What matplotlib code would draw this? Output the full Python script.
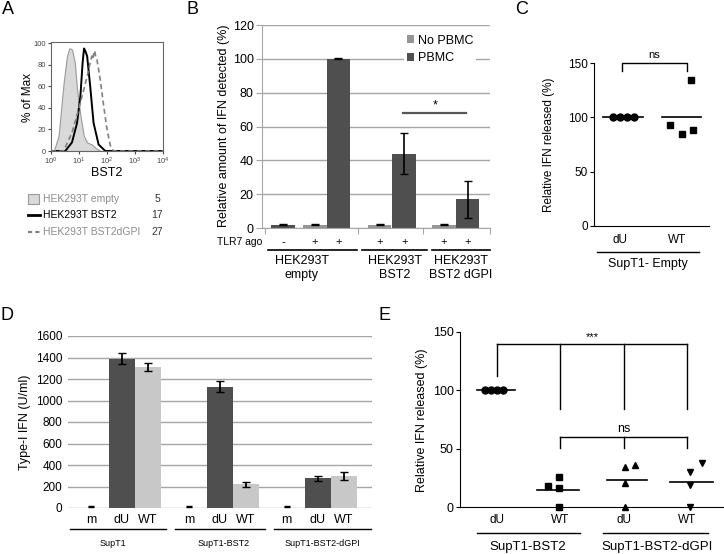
import numpy as np
import matplotlib
matplotlib.use('Agg')
import matplotlib.pyplot as plt
import matplotlib.transforms as mtransforms
from matplotlib.lines import Line2D
from matplotlib.patches import Patch, Rectangle

plt.rcParams['font.family'] = ['Liberation Sans', 'DejaVu Sans']

# ---- data ----
# A: flow histograms (log10 BST2, % of max)
empty_log = [0.0, 0.1, 0.27, 0.45, 0.57, 0.65, 0.69, 0.75, 0.85, 0.93, 1.05, 1.17, 1.29, 1.46, 1.58, 1.76, 4.0]
empty_pct = [0, 0, 14, 63, 88, 95, 95, 94, 82, 57, 33, 14, 8, 6, 3, 0, 0]
bst2_log = [0.0, 0.51, 0.75, 0.93, 1.05, 1.13, 1.18, 1.22, 1.29, 1.4, 1.52, 1.7, 1.94, 4.0]
bst2_pct = [0, 0, 8, 26, 51, 82, 95, 93, 88, 60, 26, 6, 0, 0]
dgpi_log = [0.0, 0.45, 0.75, 0.99, 1.17, 1.29, 1.4, 1.46, 1.5, 1.53, 1.56, 1.6, 1.64, 1.76, 1.88, 2.0, 2.12, 2.24, 4.0]
dgpi_pct = [0, 0, 17, 39, 57, 69, 82, 88, 85, 91, 93, 87, 85, 66, 42, 20, 5, 0, 0]
legA_names = ['HEK293T empty', 'HEK293T BST2', 'HEK293T BST2dGPI']
legA_mfi = ['5', '17', '27']

# B: relative IFN detected
nopbmc_vals = [2, 2, 2]
nopbmc_err = [0.3, 0.3, 0.3]
pbmc_vals = [2, 100, 44, 17]
pbmc_err = [0.3, 0.2, 12, 11]
tlr7_signs = ['-', '+', '+', '+', '+', '+', '+']
groupsB = ['HEK293T\nempty', 'HEK293T\nBST2', 'HEK293T\nBST2 dGPI']

# C: SupT1-Empty
c_du = [100, 100, 100, 100]
c_wt = [93, 85, 88, 134]

# D: type-I IFN (U/ml)
d_groups = ['SupT1', 'SupT1-BST2', 'SupT1-BST2-dGPI']
d_m = [12, 15, 15]
d_m_err = [6, 6, 6]
d_du = [1390, 1130, 275]
d_du_err = [50, 50, 20]
d_wt = [1310, 220, 300]
d_wt_err = [40, 25, 35]

# E: relative IFN released
e_labels = ['dU', 'WT', 'dU', 'WT']
e_du_bst2 = [100, 100, 100, 100]
e_wt_bst2 = [18, 26, 16, 0]
e_du_dgpi = [34, 36, 21, 0]
e_wt_dgpi = [30, 38, 19, 0]

# ---- layout helpers (pixel coords) ----
W, H = 724, 554
fig = plt.figure(figsize=(W / 100, H / 100), dpi=100)

def add_ax(l, t, r, b):
    return fig.add_axes([l / W, 1 - b / H, (r - l) / W, (b - t) / H])

def ftext(x, y, s, **kw):
    kw.setdefault('ha', 'center')
    kw.setdefault('va', 'center')
    return fig.text(x / W, 1 - y / H, s, **kw)

def fline(x0, x1, y, **kw):
    fig.add_artist(Line2D([x0 / W, x1 / W], [1 - y / H] * 2, transform=fig.transFigure, **kw))

def xtext(ax, x, y, s, **kw):
    tr = mtransforms.blended_transform_factory(ax.transData, fig.transFigure)
    kw.setdefault('ha', 'center')
    kw.setdefault('va', 'center')
    ax.text(x, 1 - y / H, s, transform=tr, clip_on=False, **kw)

LIGHT = '#969696'
DARK = '#4f4f4f'
GRID = '#a6a6a6'

# ---- panel letters ----
for lab, x, y in [('A', 8, 9), ('B', 192, 10), ('C', 522, 10), ('D', 7, 316), ('E', 385, 316)]:
    ftext(x, y, lab, fontsize=13)

# ---- A ----
axA = add_ax(51, 42, 163, 151)
axA.fill_between(10 ** np.array(empty_log), empty_pct, color='#d9d9d9', edgecolor='#9a9a9a', lw=0.8)
axA.plot(10 ** np.array(bst2_log), bst2_pct, color='black', lw=1.4)
axA.plot(10 ** np.array(dgpi_log), dgpi_pct, color='#808080', lw=1.2, ls=(0, (3, 2)))
axA.set_xscale('log')
axA.set_xlim(1, 1e4)
axA.set_ylim(0, 101)
axA.set_yticks(range(0, 101, 20))
axA.set_xticks([1, 10, 100, 1000, 10000])
axA.tick_params(labelsize=5.5, length=2, colors='#444', pad=1.5)
axA.tick_params(which='minor', length=1.2, colors='#666')
for s in axA.spines.values():
    s.set_color('#666')
    s.set_linewidth(0.8)
ftext(28, 97, '% of Max', fontsize=8.5, rotation=90)
ftext(107, 173, 'BST2', fontsize=9)

legA_y = [199, 215, 232]
fig.add_artist(Rectangle((28 / W, 1 - 204 / H), 11 / W, 10 / H, transform=fig.transFigure,
                         facecolor='#d9d9d9', edgecolor='#9a9a9a', lw=0.8))
fline(28, 40, legA_y[1], color='black', lw=2)
fline(28, 40, legA_y[2], color='#808080', lw=1.5, ls=(0, (2, 1.5)))
for name, mfi, y, col in zip(legA_names, legA_mfi, legA_y, ['#8c8c8c', 'black', '#8c8c8c']):
    ftext(43, y, name, fontsize=7.5, ha='left', color=col)
    ftext(157, y, mfi, fontsize=7.5, color='#333')

# ---- B ----
axB = add_ax(262, 25, 490, 228)
pos_nopbmc = [2.25, 5.0, 7.75]
pos_pbmc = [0.9, 3.25, 6.05, 8.75]
axB.bar(pos_nopbmc, nopbmc_vals, width=1.0, color=LIGHT, zorder=2)
axB.bar(pos_pbmc, pbmc_vals, width=1.0, color=DARK, zorder=2)
axB.errorbar(pos_nopbmc, nopbmc_vals, yerr=nopbmc_err, fmt='none', ecolor='black', elinewidth=1, capsize=3, zorder=3)
axB.errorbar(pos_pbmc, pbmc_vals, yerr=pbmc_err, fmt='none', ecolor='black', elinewidth=1.2, capsize=3, zorder=3)
axB.set_xlim(0, 9.7)
axB.set_ylim(0, 120)
axB.set_yticks(range(0, 121, 20))
axB.yaxis.grid(True, color=GRID, lw=1)
axB.set_axisbelow(True)
axB.set_xticks([0.13, 4.09, 6.85, 9.7])
axB.set_xticklabels([])
axB.tick_params(axis='x', length=4, color=GRID)
axB.tick_params(axis='y', length=4, color=GRID, labelsize=9, pad=2)
for k in ['top', 'right']:
    axB.spines[k].set_visible(False)
for k in ['left', 'bottom']:
    axB.spines[k].set_color(GRID)
axB.plot([6.0, 8.7], [68, 68], color='#555', lw=1.6)
axB.text(7.35, 69, '*', ha='center', va='bottom', fontsize=9)
handles = [Patch(facecolor=LIGHT), Patch(facecolor=DARK)]
axB.legend(handles, ['No PBMC', 'PBMC'], loc='upper left', bbox_to_anchor=(404 / W, 1 - 32 / H),
           bbox_transform=fig.transFigure, fontsize=9, frameon=True, facecolor='white',
           edgecolor='none', framealpha=1, handlelength=0.6, handleheight=0.6,
           handletextpad=0.3, borderpad=0.2, labelspacing=0.45, borderaxespad=0)
sign_pos = sorted(pos_nopbmc + pos_pbmc)
for x, s in zip(sign_pos, tlr7_signs):
    xtext(axB, x, 242, s, fontsize=8)
ftext(240, 242, 'TLR7 ago', fontsize=7.5)
tr = mtransforms.blended_transform_factory(axB.transData, fig.transFigure)
for x0, x1 in [(0.26, 4.04), (4.26, 7.02), (7.23, 9.7)]:
    fig.add_artist(Line2D([x0, x1], [1 - 250 / H] * 2, transform=tr, color='black', lw=1.2))
for x, g in zip([1.7, 5.66, 8.47], groupsB):
    xtext(axB, x, 268, g, fontsize=9, linespacing=1.25)
ftext(224, 126, 'Relative amount of IFN detected (%)', fontsize=9, rotation=90)

# ---- C ----
axC = add_ax(594, 63, 709, 226)
axC.plot(np.array([-0.12, 0.0, 0.12, 0.24]), c_du, 'o', color='black', ms=5, clip_on=False)
axC.plot(np.array([0.88, 1.09, 1.28, 1.25]), c_wt, 's', color='black', ms=5, clip_on=False)
axC.plot([-0.3, 0.4], [np.mean(c_du)] * 2, color='black', lw=1.2)
axC.plot([0.74, 1.42], [np.mean(c_wt)] * 2, color='black', lw=1.2)
axC.set_xlim(-0.456, 1.56)
axC.set_ylim(0, 150)
axC.set_yticks([0, 50, 100, 150])
axC.set_xticks([])
axC.tick_params(axis='y', length=3, labelsize=8.5, pad=1.5)
for k in ['top', 'right']:
    axC.spines[k].set_visible(False)
axC.plot([0.03, 0.03, 1.18, 1.18], [143, 150, 150, 143], color='black', lw=1, clip_on=False)
axC.text(0.6, 153, 'ns', ha='center', va='bottom', fontsize=8)
for x, s in zip([0, 1], ['dU', 'WT']):
    xtext(axC, x, 240, s, fontsize=8.5)
fline(597, 699, 252, color='black', lw=1)
ftext(648, 264, 'SupT1- Empty', fontsize=9)
ftext(549, 145, 'Relative IFN released (%)', fontsize=8.5, rotation=90)

# ---- D ----
axD = add_ax(68, 336, 372, 508)
du_pos = np.array([2.08, 5.85, 9.62])
wt_pos = du_pos + 1.0
m_pos = du_pos - 1.2
axD.bar(du_pos, d_du, width=1.0, color=DARK, zorder=2)
axD.bar(wt_pos, d_wt, width=1.0, color='#c8c8c8', zorder=2)
axD.errorbar(du_pos, d_du, yerr=d_du_err, fmt='none', ecolor='black', elinewidth=1.3, capsize=3, zorder=3)
axD.errorbar(wt_pos, d_wt, yerr=d_wt_err, fmt='none', ecolor='black', elinewidth=1.3, capsize=3, zorder=3)
axD.errorbar(m_pos, d_m, yerr=d_m_err, fmt='none', ecolor='black', elinewidth=2, capsize=2, zorder=3)
axD.set_xlim(0, 11.7)
axD.set_ylim(0, 1600)
axD.set_yticks(range(0, 1601, 200))
axD.yaxis.grid(True, color=GRID, lw=1)
axD.set_axisbelow(True)
axD.set_xticks([])
axD.tick_params(axis='y', length=0, labelsize=8.5, pad=4)
for s in axD.spines.values():
    s.set_visible(False)
for i in range(3):
    for x, s in zip([m_pos[i], du_pos[i], wt_pos[i]], ['m', 'dU', 'WT']):
        xtext(axD, x, 520, s, fontsize=9)
for (x0, x1), g, xc in zip([(70, 166), (175, 265), (274, 371)], d_groups, [113, 224, 322]):
    fline(x0, x1, 529, color='black', lw=1)
    ftext(xc, 543, g, fontsize=6.5)
ftext(25, 422, 'Type-I IFN (U/ml)', fontsize=9, rotation=90)

# ---- E ----
axE = add_ax(460, 332, 723, 507)
axE.plot(0 + np.array([-0.19, -0.09, 0.0, 0.09]), e_du_bst2, 'o', color='black', ms=5, clip_on=False)
axE.plot(1 + np.array([-0.2, -0.02, -0.02, -0.02]), e_wt_bst2, 's', color='black', ms=5, clip_on=False)
axE.plot(2 + np.array([0.02, 0.17, 0.02, 0.02]), e_du_dgpi, '^', color='black', ms=5, clip_on=False)
axE.plot(3 + np.array([0.04, 0.23, 0.04, 0.04]), e_wt_dgpi, 'v', color='black', ms=5, clip_on=False)
for i, (vals, (a, b)) in enumerate(zip([e_du_bst2, e_wt_bst2, e_du_dgpi, e_wt_dgpi],
                                       [(-0.31, 0.28), (-0.37, 0.3), (-0.27, 0.36), (-0.28, 0.4)])):
    axE.plot([i + a, i + b], [np.mean(vals)] * 2, color='black', lw=1.2)
axE.set_xlim(-0.58, 3.56)
axE.set_ylim(0, 150)
axE.set_yticks([0, 50, 100, 150])
axE.set_xticks([])
axE.tick_params(axis='y', length=3, labelsize=9, pad=1.5)
for k in ['top', 'right']:
    axE.spines[k].set_visible(False)
axE.plot([0, 3], [140, 140], color='black', lw=1)
axE.plot([0, 0], [140, 112], color='black', lw=1)
for x in [1, 2, 3]:
    axE.plot([x, x], [140, 84], color='black', lw=1)
axE.text(1.5, 141, '***', ha='center', va='bottom', fontsize=8)
axE.plot([1, 3], [60, 60], color='black', lw=1)
for x in [1, 2, 3]:
    axE.plot([x, x], [60, 51], color='black', lw=1)
axE.text(2, 62, 'ns', ha='center', va='bottom', fontsize=9)
for x, s in enumerate(e_labels):
    xtext(axE, x, 520, s, fontsize=8.5)
fline(477, 580, 533, color='black', lw=1)
fline(603, 708, 533, color='black', lw=1)
ftext(528, 547, 'SupT1-BST2', fontsize=9.5)
ftext(657, 547, 'SupT1-BST2-dGPI', fontsize=9.5)
ftext(422, 420, 'Relative IFN released (%)', fontsize=9, rotation=90)

fig.savefig('out.png', dpi=100)
